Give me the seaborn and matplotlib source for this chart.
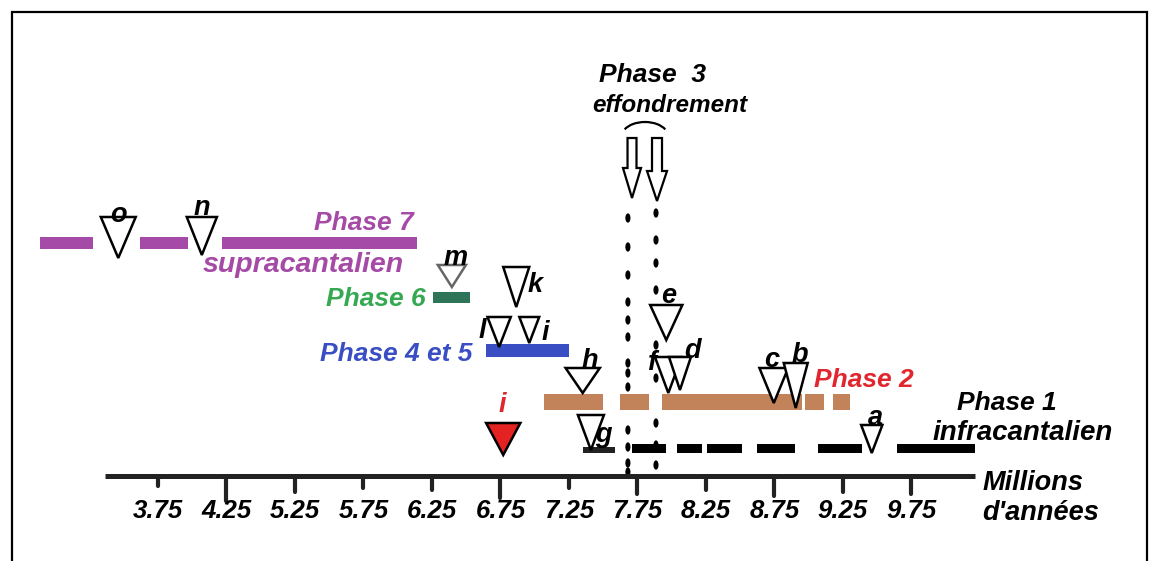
import matplotlib
matplotlib.use("Agg")
import matplotlib.pyplot as plt
from matplotlib.patches import Rectangle, FancyArrow, Arc
from matplotlib.path import Path
from matplotlib.transforms import Affine2D, ScaledTranslation
import seaborn as sns
import pandas as pd

sns.set_theme(style="white")
plt.rcParams["font.family"] = ["Liberation Sans", "DejaVu Sans"]
plt.rcParams["text.color"] = "black"

# x unit = one tick step of the time axis, y = height above the time axis
TICK_LABELS = ["3.75", "4.25", "5.25", "5.75", "6.25", "6.75",
               "7.25", "7.75", "8.25", "8.75", "9.25", "9.75"]
TICK_LEN = [10, 25, 16, 12, 14, 22, 12, 18, 14, 20, 16, 18]

# phase bars (start, end along the axis)
PH7_START = [-1.72, -0.26, 0.93]
PH7_END = [-0.95, 0.44, 3.78]
PH6_START = [4.02]
PH6_END = [4.56]
PH45_START = [4.79]
PH45_END = [6.00]
PH2_START = [5.64, 6.75, 7.36, 9.45, 9.85]
PH2_END = [6.50, 7.17, 9.40, 9.72, 10.10]
PH1_START = [6.92, 7.58, 8.02, 8.75, 9.64, 10.79]
PH1_END = [7.42, 7.94, 8.53, 9.30, 10.28, 11.93]
G_BLOB = (6.20, 6.67)

# open triangles (eruption markers) and their letters
TRI_NAMES = ["o", "n", "m", "k", "l", "i", "h", "g", "e", "f", "d", "c", "b", "a"]
TRI_X = [-0.58, 0.64, 4.29, 5.23, 4.98, 5.42, 6.20, 6.32, 7.42, 7.45, 7.62, 8.99, 9.31, 10.42]
TRI_TIP = [218, 221, 189, 169, 129, 133, 83, 26, 136, 83, 86, 73, 68, 23]
TRI_H = [41, 38, 22, 40, 30, 26, 25, 35, 35, 36, 33, 35, 45, 28]
TRI_W = [0.51, 0.44, 0.41, 0.38, 0.34, 0.29, 0.50, 0.38, 0.47, 0.39, 0.32, 0.42, 0.35, 0.31]
LAB_X = [-0.58, 0.64, 4.34, 5.50, 4.73, 5.65, 6.31, 6.50, 7.45, 7.20, 7.81, 8.96, 9.37, 10.47]
LAB_Y = [254, 261, 211, 184, 138, 136, 108, 34, 173, 106, 118, 109, 114, 51]

# red filled triangle "i"
RED_TRI = dict(x=5.04, tip=21, h=32, w=0.50, lx=5.02, ly=64)

# phase 3 collapse: dotted columns
DOT_L_X = 6.86
DOT_L_Y = [258, 229, 201, 174, 156, 139, 113, 103, 89, 73, 46, 29, 13, 4]
DOT_R_X = 7.27
DOT_R_Y = [263, 236, 213, 186, 131, 98, 53, 31, 11]

PURPLE = "#a54aa6"
GREEN_TXT = "#35a852"
GREEN_BAR = "#2d7458"
BLUE = "#3a4ec4"
BROWN = "#c2835a"
RED = "#e0262e"

FONT = dict(fontweight="bold", fontstyle="italic")

fig = plt.figure(figsize=(11.6, 5.61), dpi=100)
ax = fig.add_axes([0, 0, 1, 1])
ax.set_xlim(-2.3066, 14.628)
ax.set_ylim(-85, 476)
ax.axis("off")

# frame
fig.add_artist(Rectangle((12 / 1160, -0.1), (1147 - 12) / 1160, 1 - 12 / 561 + 0.1,
                         transform=fig.transFigure, fill=False,
                         edgecolor="black", lw=1.6))

# dotted collapse lines
dots = pd.DataFrame({
    "x": [DOT_L_X] * len(DOT_L_Y) + [DOT_R_X] * len(DOT_R_Y),
    "h": DOT_L_Y + DOT_R_Y,
})
dot_marker = Path.unit_circle().transformed(Affine2D().scale(0.55, 1.0))
sns.scatterplot(data=dots, x="x", y="h", marker=dot_marker, s=45,
                color="black", edgecolor="none", ax=ax, legend=False, zorder=1)

# bars
def draw_bars(starts, ends, level, thick, color):
    widths = [e - s for s, e in zip(starts, ends)]
    ax.barh([level] * len(starts), widths, left=starts, height=thick,
            color=color, edgecolor="none", zorder=2)

draw_bars(PH7_START, PH7_END, 233, 12, PURPLE)
draw_bars(PH6_START, PH6_END, 179, 11, GREEN_BAR)
draw_bars(PH45_START, PH45_END, 126, 13, BLUE)
draw_bars(PH2_START, PH2_END, 74, 16, BROWN)
draw_bars(PH1_START, PH1_END, 28, 9, "black")
draw_bars([G_BLOB[0]], [G_BLOB[1]], 26, 6, "#222222")

# time axis
ax.plot([-0.774, 11.927], [0, 0], color="#222222", lw=3.6, solid_capstyle="butt", zorder=3)
for i, (lab, ln) in enumerate(zip(TICK_LABELS, TICK_LEN)):
    ax.plot([i, i], [0, -ln], color="#222222", lw=3.0, solid_capstyle="round", zorder=3)
    ax.text(i, -42, lab, ha="center", va="baseline", fontsize=18.5, color="black", **FONT)
ax.text(12.03, -14, "Millions", ha="left", va="baseline", fontsize=19.5, **FONT)
ax.text(12.03, -44, "d'années", ha="left", va="baseline", fontsize=19.5, **FONT)

# triangles
def triangle(x, tip, h, w, face, edge):
    ax.fill([x - w / 2, x + w / 2, x], [tip + h, tip + h, tip],
            facecolor=face, edgecolor=edge, lw=1.8, zorder=4, joinstyle="miter")

for name, x, tip, h, w in zip(TRI_NAMES, TRI_X, TRI_TIP, TRI_H, TRI_W):
    triangle(x, tip, h, w, "white", "#666666" if name == "m" else "black")
for name, lx, ly in zip(TRI_NAMES, LAB_X, LAB_Y):
    ax.text(lx, ly, name, ha="center", va="baseline", fontsize=19.5, zorder=5, **FONT)

triangle(RED_TRI["x"], RED_TRI["tip"], RED_TRI["h"], RED_TRI["w"], "#e52222", "black")
ax.text(RED_TRI["lx"], RED_TRI["ly"], "i", ha="center", va="baseline",
        fontsize=19.5, color=RED, zorder=5, **FONT)

# phase labels
ax.text(3.007, 246, "Phase 7", ha="center", va="baseline", fontsize=19, color=PURPLE, **FONT)
ax.text(2.124, 204, "supracantalien", ha="center", va="baseline", fontsize=20.5, color=PURPLE, **FONT)
ax.text(3.175, 170, "Phase 6", ha="center", va="baseline", fontsize=19, color=GREEN_TXT, **FONT)
ax.text(3.474, 115, "Phase 4 et 5", ha="center", va="baseline", fontsize=19, color=BLUE, **FONT)
ax.text(10.299, 89, "Phase 2", ha="center", va="baseline", fontsize=19, color=RED, **FONT)
ax.text(12.387, 66, "Phase 1", ha="center", va="baseline", fontsize=19, **FONT)
ax.text(12.628, 36, "infracantalien", ha="center", va="baseline", fontsize=20, **FONT)
ax.text(7.212, 394, "Phase  3", ha="center", va="baseline", fontsize=19, **FONT)
ax.text(7.467, 364, "effondrement", ha="center", va="baseline", fontsize=17.5, **FONT)

# collapse arrows and arc
for x, top, tip, sw, hw in [(6.920, 338, 278, 0.131, 0.263), (7.285, 338, 275, 0.146, 0.292)]:
    ax.add_patch(FancyArrow(x, top, 0, tip - top, width=sw, head_width=hw,
                            head_length=30, length_includes_head=True,
                            facecolor="white", edgecolor="black", lw=1.6, zorder=4))
arc_trans = fig.dpi_scale_trans + ScaledTranslation(7.109, 340, ax.transData)
ax.add_patch(Arc((0, 0), 0.46, 0.28, theta1=18, theta2=162,
                 transform=arc_trans, color="black", lw=1.6, zorder=4))

fig.savefig("out.png", dpi=100, facecolor="white")
